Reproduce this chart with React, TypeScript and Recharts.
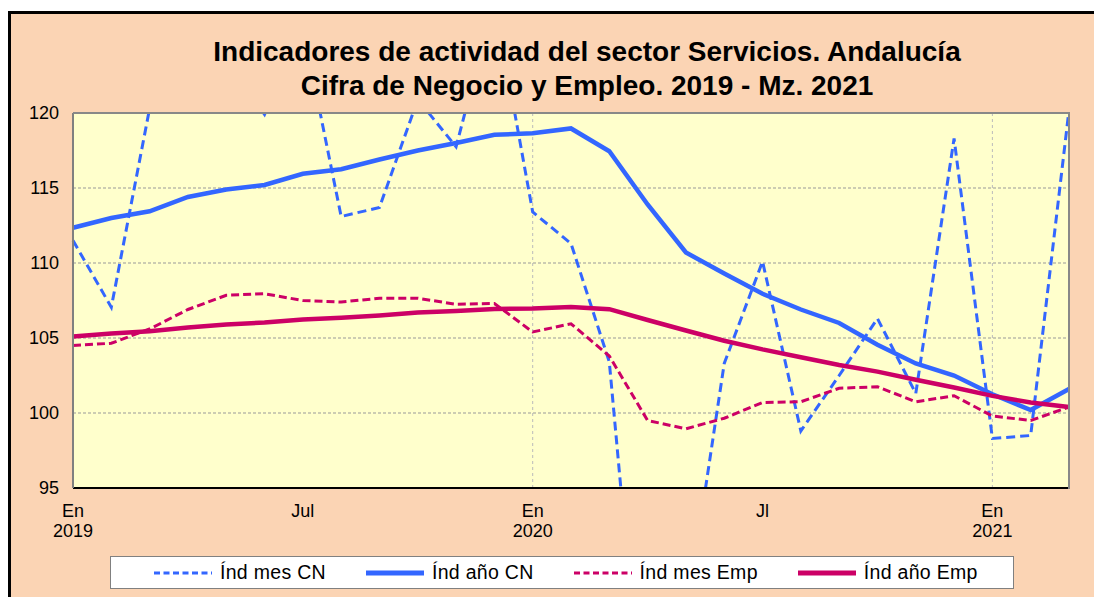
import React from "react"
import { CartesianGrid, Line, LineChart, ReferenceLine, XAxis, YAxis } from "recharts"

const months = [
  "2019-01", "2019-02", "2019-03", "2019-04", "2019-05", "2019-06",
  "2019-07", "2019-08", "2019-09", "2019-10", "2019-11", "2019-12",
  "2020-01", "2020-02", "2020-03", "2020-04", "2020-05", "2020-06",
  "2020-07", "2020-08", "2020-09", "2020-10", "2020-11", "2020-12",
  "2021-01", "2021-02", "2021-03",
]

// Índ mes CN (goes off the 95-120 scale in several months)
const mesCN = [
  111.5, 107.05, 120.3, 122.5, 123.5, 119.9, 125.7, 113.1, 113.7, 120.9, 117.75, 127.5,
  113.4, 111.3, 103.4, 75.5, 86.3, 103.3, 110.1, 98.8, 102.5, 106.3, 101.3, 118.3,
  98.3, 98.5, 120.2,
]

const anoCN = [
  112.35, 113.0, 113.45, 114.4, 114.9, 115.2, 115.95, 116.25, 116.9, 117.5, 118.0, 118.55,
  118.65, 118.97, 117.45, 113.9, 110.7, 109.3, 107.95, 106.9, 106.0, 104.55, 103.3, 102.5,
  101.25, 100.2, 101.6,
]

const mesEmp = [
  104.5, 104.65, 105.6, 106.9, 107.85, 107.95, 107.5, 107.4, 107.65, 107.65, 107.25, 107.3,
  105.4, 105.95, 103.8, 99.5, 98.95, 99.65, 100.7, 100.75, 101.65, 101.75, 100.75, 101.15,
  99.8, 99.5, 100.4,
]

const anoEmp = [
  105.1, 105.3, 105.45, 105.7, 105.9, 106.03, 106.23, 106.35, 106.5, 106.7, 106.8, 106.93,
  106.97, 107.07, 106.92, 106.2, 105.5, 104.82, 104.24, 103.72, 103.2, 102.76, 102.22, 101.7,
  101.14, 100.7, 100.4,
]

const tickMonths = ["2019-01", "2019-07", "2020-01", "2020-07", "2021-01"]
const tickLabels = [["En", "2019"], ["Jul"], ["En", "2020"], ["Jl"], ["En", "2021"]]
const yTicks = [95, 100, 105, 110, 115, 120]
const yearStarts = ["2020-01", "2021-01"]

const seriesNames = ["Índ mes CN", "Índ año CN", "Índ mes Emp", "Índ año Emp"]

const data = months.map((m, i) => ({
  m,
  mesCN: mesCN[i],
  anoCN: anoCN[i],
  mesEmp: mesEmp[i],
  anoEmp: anoEmp[i],
}))

const BLUE = "#3366FF"
const MAGENTA = "#CC0066"
const FONT = "'Liberation Sans', Arial, sans-serif"

const series = [
  { key: "mesCN", color: BLUE, width: 3, dash: "9 5", legendDash: "6 3.5" },
  { key: "anoCN", color: BLUE, width: 4.5, dash: undefined, legendDash: undefined },
  { key: "mesEmp", color: MAGENTA, width: 3, dash: "8 4", legendDash: "6 3.5" },
  { key: "anoEmp", color: MAGENTA, width: 4.5, dash: undefined, legendDash: undefined },
]

const XTick = (props: any) => {
  const { x, y, payload } = props
  const idx = tickMonths.indexOf(payload.value)
  if (idx < 0) return null
  const lines = tickLabels[idx]
  return (
    <text x={x} y={y} textAnchor="middle" fontSize={18} fontFamily={FONT} fill="#000">
      {lines.map((l, i) => (
        <tspan key={i} x={x} y={y + 21 + i * 19.5}>
          {l}
        </tspan>
      ))}
    </text>
  )
}

const YTick = (props: any) => {
  const { y, payload } = props
  return (
    <text x={59} y={y} dy="0.36em" textAnchor="end" fontSize={18} fontFamily={FONT} fill="#000">
      {payload.value}
    </text>
  )
}

export default function App() {
  return (
    <div style={{ position: "absolute", left: 0, top: 0, width: 1094, height: 597, overflow: "hidden", fontFamily: FONT }}>
      <div
        style={{
          position: "absolute",
          left: 8,
          top: 11,
          right: 0,
          bottom: 0,
          background: "#FBD4B4",
          borderLeft: "3px solid #000",
          borderTop: "3px solid #000",
        }}
      />
      <div
        style={{
          position: "absolute",
          left: 0,
          top: 35,
          width: 1174,
          textAlign: "center",
          fontWeight: "bold",
          fontSize: 28,
          lineHeight: "33.5px",
          color: "#000",
        }}
      >
        Indicadores de actividad del sector Servicios. Andalucía
        <br />
        Cifra de Negocio y Empleo. 2019 - Mz. 2021
      </div>
      <div style={{ position: "absolute", left: 0, top: 0 }}>
        <LineChart width={1094} height={597} data={data} margin={{ top: 113, right: 25, bottom: 79, left: 13 }}>
          <CartesianGrid vertical={false} stroke="#999" strokeDasharray="3 2" fill="#FFFFCC" />
          {yearStarts.map((m) => (
            <ReferenceLine key={m} x={m} stroke="#bbb" strokeDasharray="3 3" />
          ))}
          <XAxis
            dataKey="m"
            ticks={tickMonths}
            interval={0}
            tickLine={false}
            axisLine={{ stroke: "#000", strokeWidth: 2 }}
            height={30}
            tick={<XTick />}
          />
          <YAxis
            domain={[95, 120]}
            ticks={yTicks}
            allowDataOverflow
            width={60}
            tickLine={false}
            axisLine={{ stroke: "#808080", strokeWidth: 2 }}
            tick={<YTick />}
          />
          {series.map((s, i) => (
            <Line
              key={s.key}
              name={seriesNames[i]}
              dataKey={s.key}
              type="linear"
              stroke={s.color}
              strokeWidth={s.width}
              strokeDasharray={s.dash}
              dot={false}
              activeDot={false}
              isAnimationActive={false}
            />
          ))}
        </LineChart>
      </div>
      <div
        style={{
          position: "absolute",
          left: 73,
          top: 112,
          width: 995,
          height: 375,
          borderTop: "2px solid #888",
          borderRight: "2px solid #888",
          pointerEvents: "none",
        }}
      />
      <div
        style={{
          position: "absolute",
          left: 110,
          top: 556,
          width: 904,
          height: 33,
          background: "#fff",
          border: "1px solid #808080",
          display: "flex",
          alignItems: "center",
          paddingLeft: 43,
          boxSizing: "border-box",
          gap: 40,
        }}
      >
        {series.map((s, i) => (
          <div key={s.key} style={{ display: "flex", alignItems: "center", gap: 8 }}>
            <svg width={58} height={10}>
              <line
                x1={0}
                y1={5}
                x2={58}
                y2={5}
                stroke={s.color}
                strokeWidth={s.legendDash ? 3 : 5}
                strokeDasharray={s.legendDash}
              />
            </svg>
            <span style={{ fontSize: 19.5, color: "#000", whiteSpace: "nowrap", letterSpacing: 0.3 }}>
              {seriesNames[i]}
            </span>
          </div>
        ))}
      </div>
    </div>
  )
}
